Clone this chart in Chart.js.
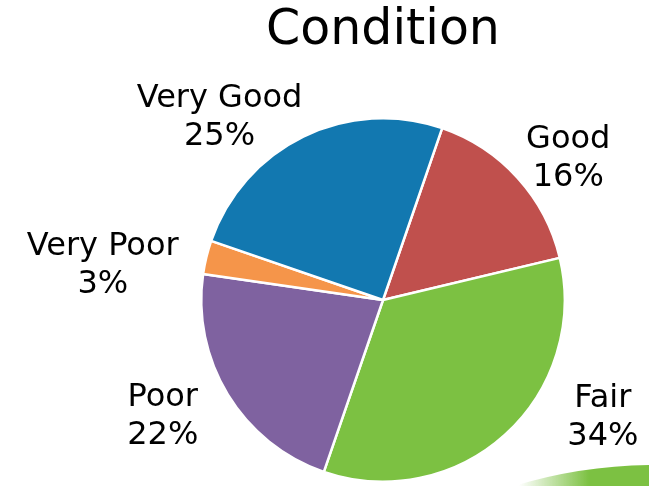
<!DOCTYPE html>
<html>
<head>
<meta charset="utf-8">
<script src="https://cdn.jsdelivr.net/npm/chart.js@4/dist/chart.umd.min.js"></script>
<style>
  html, body { margin: 0; padding: 0; background: #fff; }
  #wrap { width: 649px; height: 486px; position: relative; }
</style>
</head>
<body>
<div id="wrap"><canvas id="chart"></canvas></div>
<script>
// data, clockwise from the top-right
var categories = ["Good", "Fair", "Poor", "Very Poor", "Very Good"];
var percents = [16, 34, 22, 3, 25];
var sliceColors = ["#C0504D", "#7CC142", "#7F62A0", "#F5954A", "#1278B0"];
var chartTitle = "Condition";

// label nudges from the default 1.1 * radius anchor (px)
var labelNudge = [[-5, -7], [50, -30], [-14, 13], [-10, 13], [7, -3]];

var FONT = "'DejaVu Sans', Verdana, sans-serif";

var labelPlugin = {
    id: "outerLabels",
    afterDraw: function(chart) {
        var ctx = chart.ctx;
        var arcs = chart.getDatasetMeta(0).data;
        ctx.save();
        // title centred over the pie
        var cx0 = arcs[0].x;
        ctx.fillStyle = "#000";
        ctx.font = "49px " + FONT;
        ctx.textAlign = "center";
        ctx.textBaseline = "middle";
        ctx.fillText(chartTitle, cx0, 31);

        ctx.font = "32px " + FONT;
        var lineH = 38;
        for (var i = 0; i < arcs.length; i++) {
            var a = arcs[i];
            var mid = (a.startAngle + a.endAngle) / 2;
            var r = a.outerRadius * 1.1;
            var ax = a.x + Math.cos(mid) * r + labelNudge[i][0];
            var ay = a.y + Math.sin(mid) * r + labelNudge[i][1];
            var lines = [categories[i], percents[i] + "%"];
            var w = Math.max(ctx.measureText(lines[0]).width, ctx.measureText(lines[1]).width);
            var bx = Math.cos(mid) >= 0 ? ax + w / 2 : ax - w / 2;
            ctx.textAlign = "center";
            ctx.fillText(lines[0], bx, ay - lineH / 2);
            ctx.fillText(lines[1], bx, ay + lineH / 2);
        }
        ctx.restore();
    }
};

// stray green shape cut off in the bottom-right corner of the screenshot
var cornerPlugin = {
    id: "cornerShape",
    beforeDraw: function(chart) {
        var ctx = chart.ctx;
        var W = chart.width, H = chart.height;
        ctx.save();
        var g = ctx.createLinearGradient(W - 130, 0, W - 60, 0);
        g.addColorStop(0, "rgba(124,193,66,0)");
        g.addColorStop(1, "rgba(124,193,66,1)");
        ctx.fillStyle = g;
        ctx.beginPath();
        ctx.moveTo(W - 135, H);
        ctx.quadraticCurveTo(W - 70, H - 20, W, H - 21);
        ctx.lineTo(W, H);
        ctx.closePath();
        ctx.fill();
        ctx.restore();
    }
};

new Chart(document.getElementById("chart"), {
    type: "pie",
    data: {
        labels: categories,
        datasets: [{
            data: percents,
            backgroundColor: sliceColors,
            borderColor: "#ffffff",
            borderWidth: 2.5
        }]
    },
    options: {
        responsive: true,
        maintainAspectRatio: false,
        animation: false,
        rotation: 19,
        layout: { padding: { left: 200, right: 83, top: 117, bottom: 3 } },
        plugins: {
            legend: { display: false },
            title: { display: false },
            tooltip: { enabled: false }
        }
    },
    plugins: [cornerPlugin, labelPlugin]
});
</script>
</body>
</html>
